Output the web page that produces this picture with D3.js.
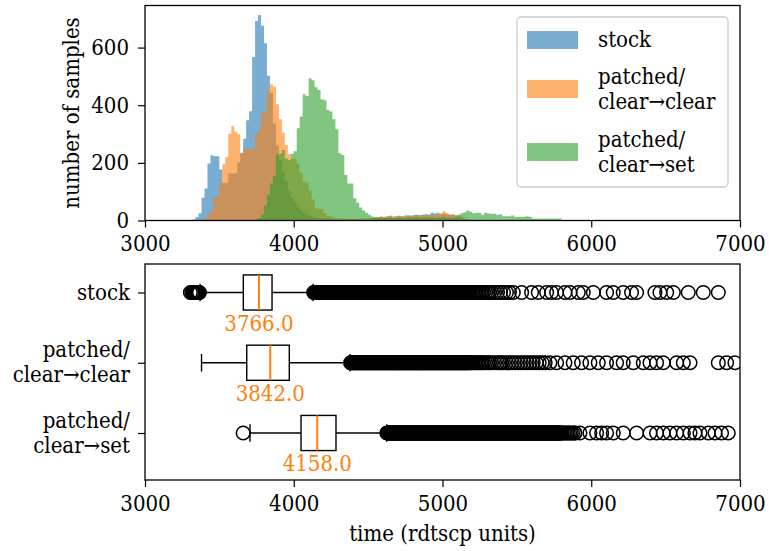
<!DOCTYPE html>
<html>
<head>
<meta charset="utf-8">
<script src="https://cdn.jsdelivr.net/npm/d3@7"></script>
<style>
body { margin: 0; background: #fff; }
</style>
</head>
<body>
<svg id="chart" width="769" height="551"></svg>
<script>
// histogram bins: 20 units wide, first bin starts at 3300 (130 bins, up to 5900)
var binStart = 3300;
var binWidth = 20;

var stockCounts = [
    2, 4, 12, 25, 79, 111, 198, 226, 223, 223,          // 3300
    177, 131, 131, 163, 163, 165, 201, 235, 284, 348,   // 3500
    379, 567, 692, 713, 676, 615, 502, 442, 337, 260,   // 3700
    210, 170, 135, 105, 80, 62, 48, 37, 28, 22,         // 3900
    17, 13, 10, 8, 7, 6, 5, 5, 4, 4,                    // 4100
    4, 4, 4, 4, 4, 4, 5, 5, 6, 6,                       // 4300
    7, 8, 10, 12, 13, 12, 14, 15, 13, 15,               // 4500
    16, 14, 17, 18, 16, 19, 20, 18, 21, 22,             // 4700
    20, 27, 24, 27, 22, 24, 21, 19, 22, 18,             // 4900
    15, 10, 5, 3, 2, 2, 2, 2, 2, 1,                     // 5100
    2, 1, 1, 1, 1, 1, 1, 1, 0, 0,                       // 5300
    0, 0, 0, 0, 0, 0, 0, 0, 0, 0,                       // 5500
    0, 0, 0, 0, 0, 0, 0, 0, 0, 0                        // 5700
];

var clearClearCounts = [
    0, 0, 0, 0, 3, 9, 21, 35, 79, 85,                   // 3300
    131, 195, 220, 301, 327, 308, 299, 230, 247, 249,   // 3500
    247, 249, 299, 317, 372, 380, 450, 473, 465, 403,   // 3700
    351, 305, 262, 230, 214, 214, 197, 166, 135, 131,   // 3900
    104, 73, 44, 41, 40, 27, 15, 15, 10, 8,             // 4100
    7, 6, 5, 5, 5, 5, 5, 6, 6, 7,                       // 4300
    8, 9, 11, 12, 14, 13, 15, 17, 14, 13,               // 4500
    17, 15, 13, 16, 18, 15, 17, 19, 18, 16,             // 4700
    20, 22, 19, 21, 24, 32, 26, 22, 20, 18,             // 4900
    17, 12, 7, 4, 3, 2, 2, 2, 2, 1,                     // 5100
    2, 1, 1, 1, 2, 1, 1, 1, 1, 1,                       // 5300
    1, 1, 1, 1, 1, 1, 1, 1, 1, 1,                       // 5500
    0, 0, 0, 0, 0, 0, 0, 0, 0, 0                        // 5700
];

var clearSetCounts = [
    0, 0, 0, 0, 0, 0, 0, 0, 0, 0,                       // 3300
    0, 0, 0, 0, 0, 0, 0, 0, 0, 0,                       // 3500
    1, 2, 4, 9, 21, 52, 90, 128, 154, 228,              // 3700
    232, 245, 215, 210, 232, 240, 320, 361, 438, 432,   // 3900
    494, 487, 462, 453, 421, 417, 383, 378, 351, 317,   // 4100
    233, 227, 158, 128, 128, 77, 62, 45, 35, 27,        // 4300
    20, 14, 10, 9, 8, 8, 9, 10, 8, 9,                   // 4500
    10, 9, 8, 11, 9, 10, 12, 9, 10, 11,                 // 4700
    10, 12, 9, 11, 10, 12, 10, 11, 9, 12,               // 4900
    20, 25, 28, 35, 30, 25, 27, 27, 20, 27,             // 5100
    25, 23, 23, 20, 22, 15, 15, 15, 17, 13,             // 5300
    13, 13, 13, 15, 13, 7, 7, 7, 7, 7,                  // 5500
    7, 7, 7, 7, 7, 2, 2, 2, 2, 1                        // 5700
];

var seriesLabels = [["stock"], ["patched/", "clear\u2192clear"], ["patched/", "clear\u2192set"]];
var seriesColors = ["#1f77b4", "#ff7f0e", "#2ca02c"];

// box plot statistics
var q1Values = [3661, 3684, 4049];
var medianValues = [3766, 3842, 4158];
var q3Values = [3854, 3970, 4284];
var whiskerLow = [3370, 3380, 3706];
var whiskerHigh = [4130, 4378, 4625];
var lowOutliers = [[], [], [3660]];
var farOutliers = [
    [5476, 5532, 5599, 5644, 5700, 5733, 5767, 5823, 5857, 5913, 5946, 6014, 6103, 6148,
     6215, 6271, 6305, 6428, 6462, 6507, 6552, 6652, 6753, 6854],
    [5722, 5767, 5823, 5879, 5935, 5991, 6047, 6103, 6170, 6215, 6283, 6350, 6395, 6439,
     6484, 6574, 6619, 6664, 6854, 6910, 6966],
    [5890, 5924, 5991, 6036, 6070, 6103, 6148, 6215, 6305, 6395, 6439, 6484, 6529, 6574,
     6619, 6664, 6697, 6731, 6787, 6832, 6876, 6921]
];

var xTicks = [3000, 4000, 5000, 6000, 7000];
var countTicks = [0, 200, 400, 600];

var svg = d3.select("#chart");
var fontSize = 22;
var serifFont = "'DejaVu Serif Condensed', 'DejaVu Serif', serif";

var histTop = 5.5, histBottom = 220.5, boxTop = 264, boxBottom = 480;
var plotLeft = 145, plotRight = 740;

var x = d3.scaleLinear().domain([3000, 7000]).range([plotLeft, plotRight]);
var yHist = d3.scaleLinear().domain([0, 746]).range([histBottom, histTop]);
var yBox = d3.scaleLinear().domain([1, 3]).range([292.5, 433]);

var allCounts = [stockCounts, clearClearCounts, clearSetCounts];

function fontStyle(t) {
    t.style("font-family", serifFont)
        .style("font-stretch", "condensed")
        .style("font-size", fontSize + "px");
}

function styleAxis(g) {
    g.attr("font-family", null).attr("font-size", null);
    g.select(".domain").remove();
    g.selectAll(".tick line").attr("stroke", "#000").attr("stroke-width", 1.2);
    g.selectAll(".tick text").attr("fill", "#000").call(fontStyle);
}

function addText(sel) {
    return sel.append("text").call(fontStyle);
}

// ---------- histogram ----------
var histG = svg.append("g");
var area = d3.area()
    .curve(d3.curveStepAfter)
    .x(function (d) { return x(d[0]); })
    .y0(yHist(0))
    .y1(function (d) { return yHist(d[1]); });

allCounts.forEach(function (counts, s) {
    var pts = counts.map(function (c, i) { return [binStart + i * binWidth, c]; });
    pts.push([binStart + counts.length * binWidth, 0]);
    histG.append("path")
        .attr("d", area(pts))
        .attr("fill", seriesColors[s])
        .attr("fill-opacity", 0.6);
});

svg.append("g")
    .attr("transform", "translate(0," + histBottom + ")")
    .call(d3.axisBottom(x).tickValues(xTicks).tickFormat(d3.format("d")).tickSize(7).tickPadding(8))
    .call(styleAxis);

svg.append("g")
    .attr("transform", "translate(" + plotLeft + ",0)")
    .call(d3.axisLeft(yHist).tickValues(countTicks).tickFormat(d3.format("d")).tickSize(7).tickPadding(9))
    .call(styleAxis);

svg.append("rect")
    .attr("x", plotLeft).attr("y", histTop)
    .attr("width", plotRight - plotLeft).attr("height", histBottom - histTop)
    .attr("fill", "none").attr("stroke", "#000").attr("stroke-width", 1.3);

addText(svg)
    .attr("transform", "translate(79," + (histTop + histBottom) / 2 + ") rotate(-90)")
    .attr("text-anchor", "middle")
    .text("number of samples");

// legend
var legend = svg.append("g");
legend.append("rect")
    .attr("x", 517).attr("y", 17).attr("width", 211).attr("height", 170)
    .attr("rx", 4).attr("fill", "#fff").attr("fill-opacity", 0.8)
    .attr("stroke", "#cccccc").attr("stroke-width", 1.3);
var legendCenters = [40, 89, 152];
seriesLabels.forEach(function (lines, s) {
    var cy = legendCenters[s];
    legend.append("rect")
        .attr("x", 527).attr("y", cy - 9).attr("width", 51).attr("height", 18)
        .attr("fill", seriesColors[s]).attr("fill-opacity", 0.6);
    lines.forEach(function (line, k) {
        var off = (k - (lines.length - 1) / 2) * 25;
        addText(legend)
            .attr("x", 598).attr("y", cy + off + 7)
            .text(line);
    });
});

// ---------- box plot ----------
svg.append("clipPath").attr("id", "boxClip")
    .append("rect")
    .attr("x", plotLeft).attr("y", boxTop)
    .attr("width", plotRight - plotLeft).attr("height", boxBottom - boxTop);

var boxG = svg.append("g");
var flierG = svg.append("g").attr("clip-path", "url(#boxClip)");

allCounts.forEach(function (counts, s) {
    var pos = s + 1;
    var cy = yBox(pos);
    var top = yBox(pos - 0.25), bottom = yBox(pos + 0.25);
    var capTop = yBox(pos - 0.125), capBottom = yBox(pos + 0.125);

    boxG.append("line")
        .attr("x1", x(whiskerLow[s])).attr("x2", x(q1Values[s]))
        .attr("y1", cy).attr("y2", cy);
    boxG.append("line")
        .attr("x1", x(q3Values[s])).attr("x2", x(whiskerHigh[s]))
        .attr("y1", cy).attr("y2", cy);
    [whiskerLow[s], whiskerHigh[s]].forEach(function (w) {
        boxG.append("line")
            .attr("x1", x(w)).attr("x2", x(w))
            .attr("y1", capTop).attr("y2", capBottom);
    });
    boxG.append("rect")
        .attr("x", x(q1Values[s])).attr("y", top)
        .attr("width", x(q3Values[s]) - x(q1Values[s])).attr("height", bottom - top)
        .attr("fill", "none");
    boxG.append("line")
        .attr("x1", x(medianValues[s])).attr("x2", x(medianValues[s]))
        .attr("y1", top).attr("y2", bottom)
        .attr("stroke", "#ff7f0e").attr("stroke-width", 2);
    addText(boxG)
        .attr("x", x(medianValues[s])).attr("y", cy + 38)
        .attr("text-anchor", "middle")
        .attr("fill", "#ff7f0e")
        .text(medianValues[s].toFixed(1));

    // fliers: samples of the histogram bins outside the whiskers
    // (up to 5 markers spread across a bin), plus the sparse far ones
    var fliers = [];
    counts.forEach(function (c, i) {
        var n = Math.min(c, 5);
        for (var j = 0; j < n; j++) {
            var v = binStart + i * binWidth + (j + 0.5) * binWidth / n;
            if (v < whiskerLow[s] || v > whiskerHigh[s]) fliers.push(v);
        }
    });
    fliers = fliers.concat(lowOutliers[s], farOutliers[s]);
    flierG.selectAll(null)
        .data(fliers)
        .enter().append("circle")
        .attr("cx", function (d) { return x(d); })
        .attr("cy", cy)
        .attr("r", 6.8)
        .attr("fill", "none")
        .attr("stroke", "#000")
        .attr("stroke-width", 1.5);
});
boxG.selectAll("line").filter(function () { return !this.getAttribute("stroke"); })
    .attr("stroke", "#000").attr("stroke-width", 1.4);
boxG.selectAll("rect").attr("stroke", "#000").attr("stroke-width", 1.4);

svg.append("g")
    .attr("transform", "translate(0," + boxBottom + ")")
    .call(d3.axisBottom(x).tickValues(xTicks).tickFormat(d3.format("d")).tickSize(7).tickPadding(8))
    .call(styleAxis);

svg.append("g")
    .attr("transform", "translate(" + plotLeft + ",0)")
    .call(d3.axisLeft(yBox).tickValues([1, 2, 3]).tickSize(7).tickFormat(""))
    .call(styleAxis);

seriesLabels.forEach(function (lines, s) {
    var cy = yBox(s + 1);
    lines.forEach(function (line, k) {
        var off = (k - (lines.length - 1) / 2) * 25;
        addText(svg)
            .attr("x", 130).attr("y", cy + off + 7)
            .attr("text-anchor", "end")
            .text(line);
    });
});

svg.append("rect")
    .attr("x", plotLeft).attr("y", boxTop)
    .attr("width", plotRight - plotLeft).attr("height", boxBottom - boxTop)
    .attr("fill", "none").attr("stroke", "#000").attr("stroke-width", 1.3);

addText(svg)
    .attr("x", (plotLeft + plotRight) / 2).attr("y", 541)
    .attr("text-anchor", "middle")
    .text("time (rdtscp units)");
</script>
</body>
</html>
